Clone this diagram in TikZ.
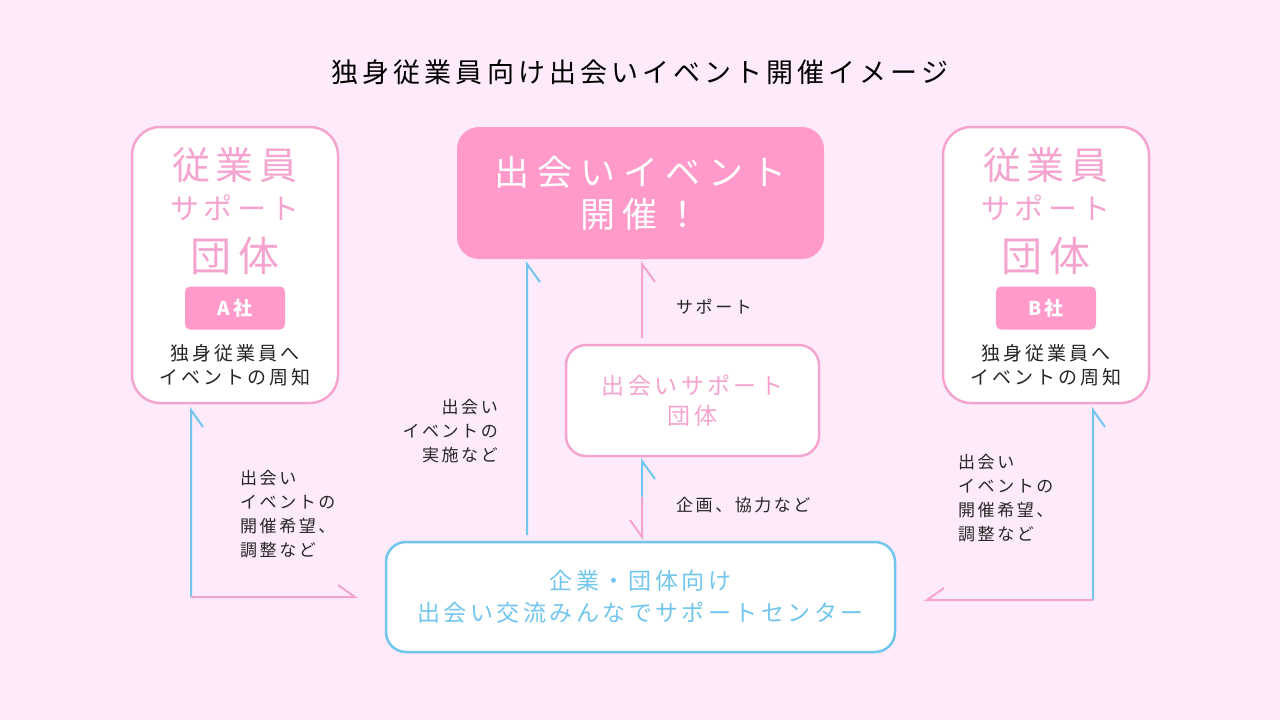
\documentclass[tikz,border=0pt]{standalone}
\usepackage{fontspec}
\setmainfont{Noto Sans CJK JP}[LetterSpace=15]
\newfontfamily\wide{Noto Sans CJK JP}[LetterSpace=22]
\begin{document}
\begin{tikzpicture}[x=1pt,y=-1pt,
  pk/.style={draw=pinkb,line width=2.5pt,rounded corners=28pt,fill=white},
  pl/.style={draw=pinkb,line width=2pt},
  bl/.style={draw=blueb,line width=2pt},
  lab/.style={font=\fontsize{17}{24}\selectfont,text=black!85,inner sep=0pt},
  ]
\definecolor{bg}{HTML}{FDEBFB}
\definecolor{pinkb}{HTML}{F5A3CF}
\definecolor{pinkf}{HTML}{FF9ACB}
\definecolor{blueb}{HTML}{72C6EE}
\fill[bg] (0,0) rectangle (1280,720);
\useasboundingbox (0,0) rectangle (1280,720);
\node[font=\fontsize{27}{30}\selectfont] (title) at (640,72) {独身従業員向け出会いイベント開催イメージ};
% side boxes
\foreach \n/\x/\co in {L/235/A社,R/1046/B社}{
  \node[pk,minimum width=206pt,minimum height=276pt] (\n) at (\x,265) {};
  \node[text=pinkb,font=\fontsize{38}{40}\selectfont] (\n1) at (\x,165) {従業員};
  \node[text=pinkb,font=\fontsize{29}{30}\selectfont] (\n2) at (\x,208) {サポート};
  \node[text=pinkb,font=\fontsize{41}{44}\selectfont] (\n3) at (\x,256) {団体};
  \node[fill=pinkf,rounded corners=5pt,minimum width=100pt,minimum height=43pt,text=white,font=\fontsize{19}{20}\selectfont\bfseries] (\n4) at (\x,308) {\co};
  \node[lab,align=center,font=\fontsize{19}{24}\selectfont] (\n5) at (\x,365) {独身従業員へ\\イベントの周知};
}
\node[fill=pinkf,rounded corners=22pt,minimum width=367pt,minimum height=132pt,align=center,text=white,font=\wide\fontsize{35}{42}\selectfont] (T) at (640.5,193) {出会いイベント\\開催！};
\node[pk,rounded corners=20pt,minimum width=253pt,minimum height=111pt,align=center,text=pinkb,font=\fontsize{23}{30}\selectfont] (M) at (692.5,400.5) {出会いサポート\\団体};
\node[pk,draw=blueb,rounded corners=20pt,minimum width=509pt,minimum height=110pt,align=center,text=blueb,font=\fontsize{23}{32}\selectfont] (B) at (640.5,597) {企業・団体向け\\出会い交流みんなでサポートセンター};
% coordinates
\coordinate (l0) at (191,597); \coordinate (l1) at (191,410); \coordinate (l2) at (355,597);
\coordinate (r0) at (1093,600); \coordinate (r1) at (1093,410); \coordinate (r2) at (927,600);
\coordinate (c0) at (527,535); \coordinate (c1) at (527,264);
\coordinate (s0) at (642,338); \coordinate (s1) at (642,264);
\coordinate (k0) at (642,497); \coordinate (k1) at (642,461); \coordinate (k2) at (642,537);
\draw[bl] (l0) -- (l1) -- ++(12,17);
\draw[pl] (l0) -- (l2) -- ++(-17,-12);
\draw[bl] (r0) -- (r1) -- ++(12,17);
\draw[pl] (r0) -- (r2) -- ++(17,-12);
\draw[bl] (c0) -- (c1) -- ++(13,18);
\draw[pl] (s0) -- (s1) -- ++(13,18);
\draw[bl] (k0) -- (k1) -- ++(13,18);
\draw[pl] (k0) -- (k2) -- ++(-12,-17);
% labels
\node[lab,anchor=west] (ls) at (676,307) {サポート};
\node[lab,anchor=west] (lk) at (676,505) {企画、協力など};
\node[lab,align=right,anchor=north east] (lc) at (498,399) {出会い\\イベントの\\実施など};
\node[lab,align=left,anchor=north west] (ll) at (240,470) {出会い\\イベントの\\開催希望、\\調整など};
\node[lab,align=left,anchor=north west] (lr) at (958,454) {出会い\\イベントの\\開催希望、\\調整など};
\end{tikzpicture}
\end{document}
